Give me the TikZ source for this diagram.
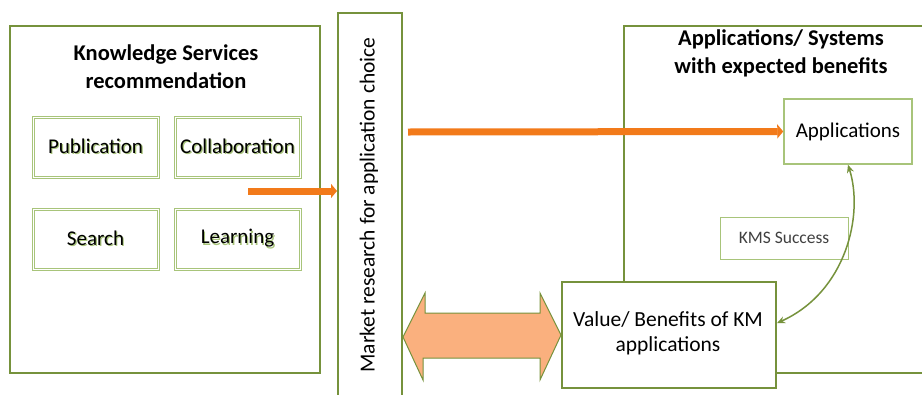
\documentclass[tikz,border=0pt]{standalone}
\usepackage{fontspec}
\setmainfont{Carlito}
\usetikzlibrary{arrows.meta,calc}
\definecolor{gdark}{HTML}{76923C}
\definecolor{glight}{HTML}{A8C47A}
\definecolor{orng}{HTML}{F27A1A}
\definecolor{orlight}{HTML}{FAB07E}
\newcommand{\shtext}[1]{\makebox[0pt][l]{\hspace{1.2pt}\raisebox{-1.2pt}{\textcolor{glight}{#1}}}#1}
\tikzset{
  bigbox/.style={draw=gdark,line width=2pt,fill=white},
  svcbox/.style={draw=glight,line width=1pt,fill=white,
    minimum width=127pt,minimum height=62pt,inner sep=0pt,font=\fontsize{21}{24}\selectfont},
  appbox/.style={draw=glight,line width=1.5pt,fill=white,inner sep=0pt},
  orarrow/.style={draw=orng,line width=7pt,-{Triangle[length=6pt,width=14pt]}},
  ttl/.style={font=\bfseries\fontsize{22.5}{28}\selectfont,align=center}
}
\begin{document}
\begin{tikzpicture}[x=1pt,y=-1pt]
\useasboundingbox (0,0) rectangle (922,394);
\clip (0,0) rectangle (922,394);
% left box
\draw[bigbox] (10,26) rectangle (320,373);
\node[ttl] (kstitle) at (166,67) {Knowledge Services\\recommendation};
\foreach \n/\x/\y/\t in {pub/95.5/147/Publication,col/237.5/147/Collaboration,sea/95.5/239/Search,lea/237.5/239/Learning}{
  \node[svcbox] (\n) at (\x,\y) {\shtext{\t}};
  \draw[glight,line width=0.8pt] ([shift={(2.5,2.5)}]\n.north west) rectangle ([shift={(-2.5,-2.5)}]\n.south east);
}
% right big box
\draw[bigbox] (624,26) rectangle (960,373);
\node[ttl] (rtitle) at (781,53) {Applications/ Systems\\with expected benefits};
% market bar
\node[draw=gdark,line width=2pt,fill=white,minimum width=64pt,minimum height=400pt,inner sep=0pt,anchor=north west] (mkt) at (337,12) {};
\node[rotate=90,font=\fontsize{21.5}{24}\selectfont] (mkttxt) at (369,205) {Market research for application choice};
% applications
\node[appbox,minimum width=128pt,minimum height=65pt,font=\fontsize{21}{24}\selectfont] (apps) at (848,131.5) {Applications};
% KMS success
\node[draw=glight,line width=1pt,fill=white,minimum width=128pt,minimum height=42pt,inner sep=0pt,text=black!75,font=\fontsize{17.5}{20}\selectfont] (kms) at (784,238) {KMS Success};
% value box
\node[draw=gdark,line width=2pt,fill=white,minimum width=214pt,minimum height=106pt,inner sep=0pt,anchor=north west] (val) at (561,281) {};
\node[align=center,font=\fontsize{21.5}{25}\selectfont] (valtxt) at (668,333) {Value/ Benefits of KM\\applications};
% arrows
\coordinate (s1) at (248,191);
\draw[orarrow] (s1) -- (s1 -| mkt.west);
\coordinate (s2) at (408,132);
\draw[orarrow] (s2) -- (apps.west);
\draw[draw=gdark,line width=1pt,fill=orlight,line join=miter]
  (mkt.east |- 0,337) -- ++(22,-44) -- ++(0,20) -- (540,313) -- (540,293) -- (val.west) -- (540,380) -- (540,358) -- (423,358) -- (423,380) -- cycle;
\draw[gdark,line width=1.5pt,{Stealth[length=8pt,width=7pt]}-{Stealth[length=8pt,width=7pt]}]
  (apps.south) .. controls (864,215) and (846,292) .. ($(val.north east)!0.39!(val.south east)$);
\end{tikzpicture}
\end{document}
